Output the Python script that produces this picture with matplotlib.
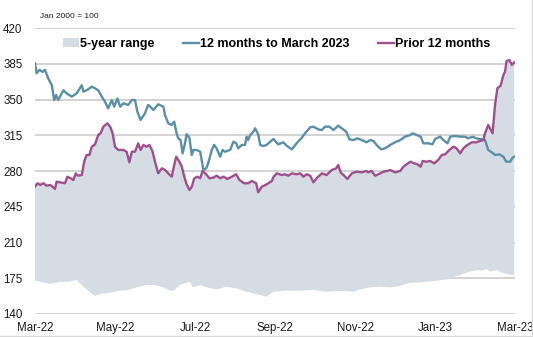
import numpy as np
import matplotlib
matplotlib.use("Agg")
import matplotlib.pyplot as plt
from matplotlib.patches import Patch
from matplotlib.lines import Line2D

plt.rcParams['font.family'] = ['Liberation Sans', 'DejaVu Sans']

# x positions are months since Mar-2022 (0 = Mar-22, 12 = Mar-23)
month_labels = ["Mar-22", "May-22", "Jul-22", "Sep-22", "Nov-22", "Jan-23", "Mar-23"]
y_ticks = [140, 175, 210, 245, 280, 315, 350, 385, 420]

# 12 months to March 2023
cur_m = [0.00, 0.04, 0.11, 0.19, 0.25, 0.33, 0.42, 0.48, 0.53, 0.58, 0.71, 0.79, 0.92, 1.04, 1.17, 1.21,
         1.29, 1.42, 1.50, 1.58, 1.67, 1.75, 1.83, 1.92, 1.98, 2.06, 2.13, 2.21, 2.33, 2.42, 2.50, 2.56,
         2.64, 2.75, 2.83, 2.88, 2.96, 3.08, 3.21, 3.25, 3.33, 3.42, 3.48, 3.54, 3.58, 3.64, 3.69, 3.75,
         3.79, 3.86, 3.92, 3.96, 4.04, 4.13, 4.21, 4.28, 4.33, 4.42, 4.48, 4.54, 4.63, 4.69, 4.75, 4.88,
         4.96, 5.03, 5.08, 5.17, 5.25, 5.29, 5.33, 5.38, 5.46, 5.50, 5.58, 5.63, 5.71, 5.79, 5.88, 5.96,
         6.08, 6.21, 6.29, 6.42, 6.54, 6.67, 6.75, 6.88, 6.96, 7.08, 7.17, 7.25, 7.36, 7.46, 7.58, 7.67,
         7.78, 7.86, 7.96, 8.06, 8.17, 8.29, 8.38, 8.46, 8.54, 8.65, 8.75, 8.88, 9.00, 9.13, 9.25, 9.38,
         9.44, 9.54, 9.64, 9.71, 9.83, 9.94, 10.00, 10.13, 10.21, 10.31, 10.38, 10.50, 10.63, 10.75, 10.83,
         10.94, 11.03, 11.13, 11.25, 11.33, 11.42, 11.50, 11.61, 11.71, 11.78, 11.88, 11.94, 11.98]
cur_v = [385.4, 375.6, 379.0, 377.0, 379.0, 370.7, 364.0, 349.5, 354.4, 349.5, 359.0, 356.0, 352.8, 356.0, 364.0, 357.7,
         359.0, 362.5, 361.0, 359.0, 352.8, 347.8, 341.4, 349.5, 343.0, 351.0, 343.0, 346.3, 344.6, 349.5, 349.5, 338.0,
         330.0, 336.5, 344.6, 343.0, 339.7, 345.3, 343.0, 334.8, 326.7, 325.0, 328.3, 316.9, 312.0, 310.3, 297.3, 307.1,
         316.0, 312.6, 295.7, 300.6, 300.6, 298.9, 281.0, 282.6, 287.5, 300.6, 305.5, 302.2, 294.0, 300.6, 298.9, 300.6,
         308.7, 307.1, 302.2, 305.5, 305.5, 313.6, 310.3, 315.2, 318.5, 321.8, 316.0, 305.5, 304.5, 305.5, 308.7, 311.3,
         306.1, 308.1, 304.8, 301.2, 307.1, 312.6, 316.9, 322.8, 323.4, 320.8, 320.1, 323.4, 323.4, 320.1, 324.4, 321.8,
         318.5, 311.0, 310.3, 312.0, 310.3, 308.1, 310.3, 309.4, 305.5, 301.2, 302.2, 305.5, 308.1, 310.3, 313.6, 315.2,
         316.9, 315.2, 313.6, 307.1, 307.1, 306.1, 311.3, 313.6, 310.3, 307.1, 313.6, 314.3, 313.6, 313.6, 312.0,
         313.6, 312.0, 311.3, 310.3, 300.6, 298.3, 295.7, 296.3, 294.0, 289.1, 289.1, 293.0, 294.0]

# Prior 12 months (also the top of the 5-year range)
prior_m = [0.00, 0.06, 0.13, 0.21, 0.29, 0.38, 0.44, 0.50, 0.54, 0.67, 0.75, 0.81, 0.89, 0.96, 1.02, 1.08,
           1.17, 1.23, 1.29, 1.36, 1.42, 1.50, 1.58, 1.64, 1.71, 1.81, 1.88, 1.94, 2.00, 2.08, 2.21, 2.29,
           2.36, 2.42, 2.50, 2.58, 2.64, 2.71, 2.79, 2.86, 2.94, 3.00, 3.08, 3.17, 3.25, 3.33, 3.42, 3.48,
           3.53, 3.61, 3.67, 3.71, 3.78, 3.86, 3.92, 3.98, 4.06, 4.13, 4.19, 4.28, 4.36, 4.46, 4.54, 4.63,
           4.71, 4.81, 4.92, 5.03, 5.11, 5.23, 5.33, 5.42, 5.53, 5.58, 5.67, 5.79, 5.92, 5.96, 6.04, 6.17,
           6.25, 6.33, 6.42, 6.54, 6.63, 6.71, 6.79, 6.88, 6.96, 7.04, 7.17, 7.29, 7.42, 7.53, 7.58, 7.64,
           7.73, 7.81, 7.92, 8.04, 8.17, 8.28, 8.33, 8.42, 8.50, 8.58, 8.71, 8.83, 8.88, 9.00, 9.13, 9.21,
           9.29, 9.39, 9.48, 9.56, 9.64, 9.69, 9.79, 9.88, 9.98, 10.08, 10.17, 10.25, 10.36, 10.46, 10.54,
           10.63, 10.71, 10.81, 10.92, 11.03, 11.13, 11.21, 11.25, 11.33, 11.44, 11.50, 11.56, 11.64, 11.71,
           11.75, 11.79, 11.86, 11.92, 11.98]
prior_v = [264.6, 268.0, 266.3, 268.0, 265.6, 266.3, 264.6, 262.4, 269.5, 268.6, 268.0, 274.4, 272.9, 271.2, 277.7, 275.4,
           276.1, 289.1, 295.7, 295.7, 303.8, 306.1, 315.2, 316.9, 323.4, 326.7, 323.4, 316.9, 303.8, 300.6, 300.6, 298.9,
           288.5, 298.9, 298.9, 307.1, 300.6, 305.5, 303.8, 305.5, 298.9, 289.1, 277.7, 282.6, 281.0, 277.7, 274.4, 285.9,
           294.0, 289.1, 284.2, 277.7, 268.0, 261.4, 264.6, 272.9, 274.4, 272.9, 280.0, 276.8, 272.9, 273.5, 275.4, 272.9,
           274.4, 272.2, 274.4, 276.8, 271.2, 268.0, 268.0, 270.2, 268.0, 259.1, 264.6, 266.9, 270.2, 274.0, 277.7, 276.1,
           276.8, 275.4, 277.7, 276.8, 277.7, 274.4, 276.8, 275.4, 268.9, 272.9, 277.7, 276.1, 281.0, 282.6, 285.9, 278.7,
           275.4, 272.2, 277.7, 279.3, 278.7, 280.0, 278.7, 280.0, 275.4, 276.8, 279.3, 280.3, 281.0, 278.7, 280.0, 284.2,
           286.6, 289.1, 287.5, 286.6, 284.2, 289.8, 289.1, 289.8, 287.5, 290.8, 295.7, 296.3, 300.6, 303.8, 302.2,
           297.3, 302.2, 305.5, 308.1, 308.1, 309.4, 310.3, 316.9, 325.0, 316.9, 344.6, 361.0, 363.5, 374.0,
           377.2, 387.7, 388.7, 383.8, 386.4]

# 5-year range: lower bound
low_m = [0.00, 0.13, 0.38, 0.63, 0.83, 1.04, 1.17, 1.33, 1.50, 1.63, 1.88, 2.13, 2.33, 2.54, 2.79, 3.00,
         3.21, 3.38, 3.46, 3.63, 3.88, 3.94, 4.13, 4.29, 4.54, 4.79, 5.04, 5.29, 5.50, 5.63, 5.79, 5.96,
         6.29, 6.63, 6.96, 7.29, 7.63, 7.96, 8.13, 8.38, 8.63, 8.88, 9.13, 9.29, 9.54, 9.79, 10.04, 10.33,
         10.54, 10.79, 11.04, 11.17, 11.28, 11.38, 11.56, 11.63, 11.79, 11.98]
low_v = [172.6, 171.6, 169.4, 171.6, 171.6, 173.3, 168.4, 162.8, 157.6, 159.6, 160.9, 162.8, 163.5, 166.1, 168.4, 168.4,
         166.1, 162.8, 162.8, 168.4, 171.6, 166.1, 168.4, 166.1, 164.1, 166.7, 165.1, 161.8, 159.6, 158.6, 156.9, 161.8,
         162.8, 162.8, 163.5, 161.8, 162.8, 161.8, 164.1, 166.1, 166.7, 166.1, 167.4, 170.0, 170.7, 171.6, 172.6, 174.0,
         177.2, 180.4, 183.1, 182.4, 184.3, 181.4, 183.1, 181.1, 179.2, 177.9]

TEAL = "#5B8FA6"
PURPLE = "#9E4F8C"
AREA = "#D6DCE4"
GRID = "#D0D0D0"

fig = plt.figure(figsize=(5.33, 3.37), dpi=100)
ax = fig.add_axes([35/533, 1-314/337, 480/533, (314-28)/337])

for y in y_ticks:
    ax.axhline(y, color=GRID, lw=1.3, zorder=0)

poly_x = np.r_[prior_m, low_m[::-1]]
poly_y = np.r_[prior_v, low_v[::-1]]
ax.fill(poly_x, poly_y, color=AREA, lw=0, zorder=1)

ax.plot(cur_m, cur_v, color=TEAL, lw=1.7, zorder=3, solid_joinstyle='round')
ax.plot(prior_m, prior_v, color=PURPLE, lw=1.7, zorder=4, solid_joinstyle='round')

ax.set_xlim(0, 12)
ax.set_ylim(140, 420)
ax.set_xticks(np.arange(0, 13, 2))
ax.set_xticklabels(month_labels)
ax.set_yticks(y_ticks)
ax.tick_params(axis='both', length=0, labelsize=8.3, colors='#1a1a1a')
ax.tick_params(axis='y', pad=9)
ax.tick_params(axis='x', pad=6)
for s in ax.spines.values():
    s.set_visible(False)
ax.patch.set_alpha(0)

handles = [Patch(facecolor=AREA, edgecolor='none'),
           Line2D([], [], color=TEAL, lw=1.7),
           Line2D([], [], color=PURPLE, lw=1.7)]
labels = ["5-year range", "12 months to March 2023", "Prior 12 months"]
leg_y = (1 - 44/337 - (1 - 314/337)) / ((314 - 28)/337)
leg = ax.legend(handles, labels, ncol=3, loc='center left',
                bbox_to_anchor=((63-35)/480, leg_y),
                frameon=False, handlelength=1.25, handleheight=0.75, handletextpad=0.1,
                columnspacing=2.3, borderaxespad=0, borderpad=0,
                prop={'weight': 'bold', 'size': 9.0})

fig.text(40/533, 1-16/337, "Jan 2000 = 100", fontsize=6.0, va='center', ha='left', color='#1a1a1a')

fig.add_artist(Line2D([531.5/533, 531.5/533], [0, 1], color='#D9D9D9', lw=1, transform=fig.transFigure))
fig.add_artist(Line2D([0, 1], [1-335.5/337, 1-335.5/337], color='#D9D9D9', lw=1, transform=fig.transFigure))

fig.savefig("out.png", dpi=100)
